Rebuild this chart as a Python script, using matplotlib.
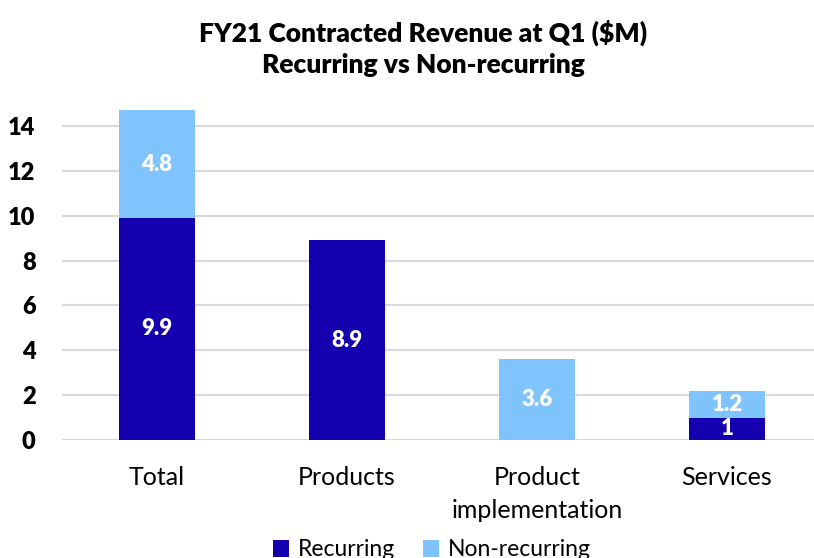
import matplotlib.pyplot as plt
import numpy as np

categories = ["Total", "Products", "Product\nimplementation", "Services"]
recurring = [9.9, 8.9, 0, 1]
non_recurring = [4.8, 0, 3.6, 1.2]
yticks = [0, 2, 4, 6, 8, 10, 12, 14]

dark = "#1400AE"
light = "#80C4FF"
plt.rcParams['font.family'] = ['Lato', 'DejaVu Sans']

fig = plt.figure(figsize=(8.14, 5.58), dpi=100)
ax = fig.add_axes([62/814, 1-440/558, 1-62/814, (440-103.6)/558])
x = np.arange(len(categories))
w = 0.4
b1 = ax.bar(x, recurring, w, color=dark, label="Recurring", zorder=3)
b2 = ax.bar(x, non_recurring, w, bottom=recurring, color=light, label="Non-recurring", zorder=3)

for i in range(len(x)):
    if recurring[i] > 0:
        ax.text(x[i], recurring[i]/2, f"{recurring[i]:g}", ha='center', va='center',
                color='white', fontsize=16, fontweight='heavy', zorder=4)
    if non_recurring[i] > 0:
        ax.text(x[i], recurring[i] + non_recurring[i]/2, f"{non_recurring[i]:g}", ha='center', va='center',
                color='white', fontsize=16, fontweight='heavy', zorder=4)

ax.set_xlim(-0.5, 3.5 - 8/190)
ax.set_ylim(0, 15)
ax.set_yticks(yticks)
ax.set_yticklabels([str(t) for t in yticks], fontsize=17, fontweight='heavy')
ax.set_xticks(x)
ax.set_xticklabels(categories, fontsize=18, linespacing=1.5)
ax.tick_params(axis='both', length=0)
ax.tick_params(axis='x', pad=19)
ax.tick_params(axis='y', pad=19)
for s in ax.spines.values():
    s.set_visible(False)
ax.yaxis.grid(True, color='#D9D9D9', linewidth=1.5, zorder=0)

fig.text(423/814, 1-33/558, "FY21 Contracted Revenue at Q1 ($M)", ha='center', va='center',
         fontsize=19, fontweight='heavy')
fig.text(423/814, 1-65/558, "Recurring vs Non-recurring", ha='center', va='center',
         fontsize=19, fontweight='heavy')

fig.legend(handles=[b1, b2], loc='center', bbox_to_anchor=(432/814, 1-550/558), ncol=2,
           frameon=False, fontsize=16.5, handlelength=0.7, handleheight=0.7,
           handletextpad=0.4, columnspacing=1.2)

fig.savefig("out.png", dpi=100)
